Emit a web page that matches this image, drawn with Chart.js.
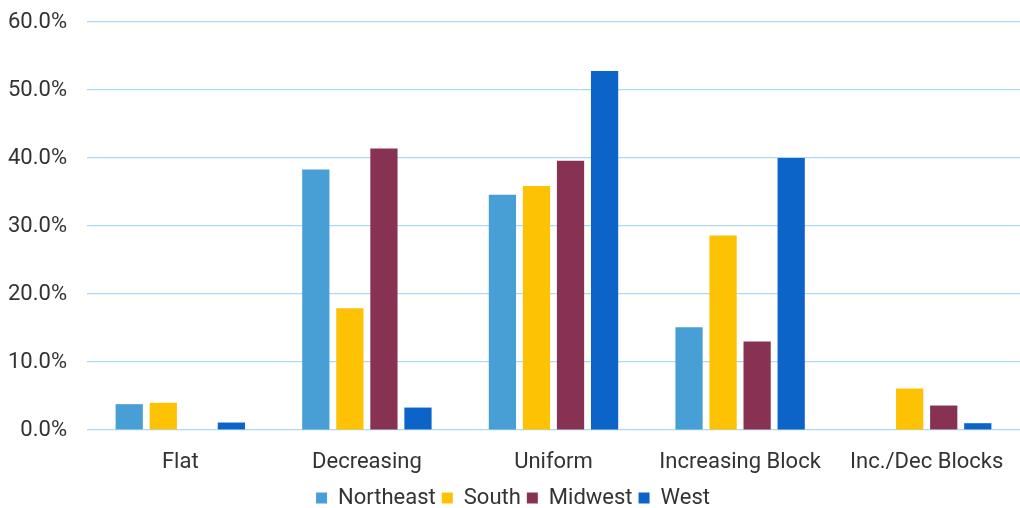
<!DOCTYPE html>
<html>
<head>
<meta charset="utf-8">
<script src="https://cdn.jsdelivr.net/npm/chart.js@4"></script>
<style>
  html, body { margin: 0; padding: 0; background: #fff; }
  #wrap { width: 1020px; height: 508px; }
</style>
</head>
<body>
<div id="wrap"><canvas id="rateChart"></canvas></div>
<script>
// rate structure share by region (percent)
const categories = ['Flat', 'Decreasing', 'Uniform', 'Increasing Block', 'Inc./Dec Blocks'];
const northeast = [3.8, 38.3, 34.6, 15.1, 0];
const south     = [4.0, 17.9, 35.9, 28.6, 6.1];
const midwest   = [0, 41.4, 39.6, 13.0, 3.6];
const west      = [1.1, 3.3, 52.8, 40.0, 1.0];
const yTicks    = [0, 10, 20, 30, 40, 50, 60];

const font = { family: 'Roboto, "Noto Sans", sans-serif', size: 22 };

const series = [
    { label: 'Northeast', data: northeast, color: '#479fd6' },
    { label: 'South',     data: south,     color: '#fcc203' },
    { label: 'Midwest',   data: midwest,   color: '#883253' },
    { label: 'West',      data: west,      color: '#0d64c8' },
];

new Chart(document.getElementById('rateChart'), {
    type: 'bar',
    data: {
        labels: categories,
        datasets: series.map(s => ({
            label: s.label,
            data: s.data,
            backgroundColor: s.color,
            borderWidth: 0,
            categoryPercentage: 0.73,
            barPercentage: 0.8,
        })),
    },
    options: {
        responsive: true,
        maintainAspectRatio: false,
        animation: false,
        layout: { padding: { left: 6, right: 0, top: 0, bottom: -11 } },
        plugins: {
            tooltip: { enabled: false },
            legend: {
                position: 'bottom',
                labels: {
                    color: '#333',
                    font: font,
                    boxWidth: 11,
                    boxHeight: 11,
                    padding: 6,
                },
            },
        },
        scales: {
            x: {
                grid: { display: false, drawTicks: false },
                border: { display: false },
                ticks: { color: '#333', font: font, padding: 19, maxRotation: 0 },
                afterFit: axis => {
                    axis.height = 51;
                    axis.paddingRight = 0;
                },
            },
            y: {
                min: 0,
                max: 60,
                afterBuildTicks: axis => { axis.ticks = yTicks.map(v => ({ value: v })); },
                grid: { color: '#acdaf3', lineWidth: 1.2, drawTicks: false },
                border: { display: false },
                ticks: {
                    color: '#333',
                    font: font,
                    padding: 20,
                    callback: v => v.toFixed(1) + '%',
                },
                afterFit: axis => {
                    axis.width = 81;
                    axis.paddingTop = 22;
                },
            },
        },
    },
});
</script>
</body>
</html>
